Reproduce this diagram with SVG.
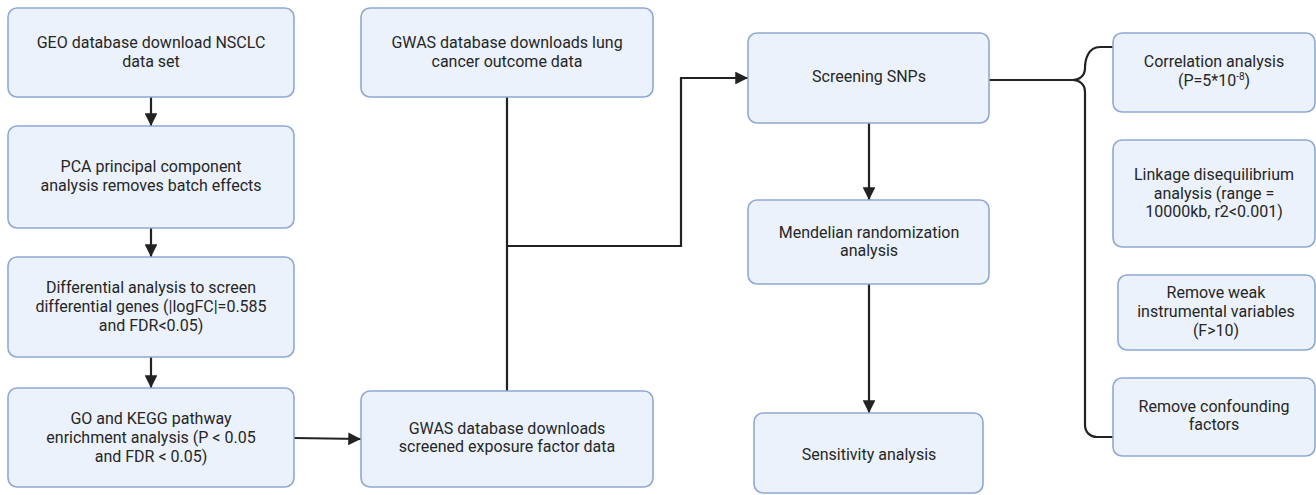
<svg xmlns="http://www.w3.org/2000/svg" width="1316" height="495" viewBox="0 0 1316 495">
  <style>
    .box { fill: #ebf2fc; stroke: #8fa8d3; stroke-width: 1.6; }
    .lbl { font-family: Roboto, "Liberation Sans", sans-serif; font-size: 16px; fill: #262626; text-anchor: middle; }
    .wire { fill: none; stroke: #222; stroke-width: 2.2; }
  </style>
  <defs>
    <marker id="arrow" viewBox="0 0 10 10" refX="10" refY="5" markerWidth="5.8" markerHeight="5.8" markerUnits="strokeWidth" orient="auto">
      <path d="M0,0 L10,5 L0,10 Z" fill="#222"/>
    </marker>
  </defs>
  <rect width="1316" height="495" fill="#ffffff"/>

  <g id="connectors">
    <line class="wire" x1="151" y1="97" x2="151" y2="126" marker-end="url(#arrow)"/>
    <line class="wire" x1="151" y1="228" x2="151" y2="257" marker-end="url(#arrow)"/>
    <line class="wire" x1="151" y1="357" x2="151" y2="388" marker-end="url(#arrow)"/>
    <line class="wire" x1="294" y1="438" x2="361" y2="439" marker-end="url(#arrow)"/>
    <line class="wire" x1="507" y1="97" x2="507" y2="391"/>
    <polyline class="wire" points="507,246 681,246 681,78 748,78" marker-end="url(#arrow)"/>
    <line class="wire" x1="869" y1="123" x2="869" y2="200" marker-end="url(#arrow)"/>
    <line class="wire" x1="869" y1="284" x2="869" y2="413" marker-end="url(#arrow)"/>
    <line class="wire" x1="989" y1="80" x2="1073" y2="80"/>
    <path class="wire" d="M1113,47 L1100,47 C1088,47 1085,60 1085,68 C1085,76 1079,80 1073,80 C1079,80 1085,84 1085,92 L1085,425 C1085,432 1090,437 1097,437 L1113,437"/>
  </g>

  <g id="geo-download">
    <rect class="box" x="8" y="8" width="286" height="89" rx="9"/>
    <text class="lbl" x="151" y="48">GEO database download NSCLC</text>
    <text class="lbl" x="151" y="67">data set</text>
  </g>
  <g id="pca">
    <rect class="box" x="8" y="126" width="286" height="102" rx="9"/>
    <text class="lbl" x="151" y="172">PCA principal component</text>
    <text class="lbl" x="151" y="191">analysis removes batch effects</text>
  </g>
  <g id="differential">
    <rect class="box" x="8" y="257" width="286" height="100" rx="9"/>
    <text class="lbl" x="151" y="293">Differential analysis to screen</text>
    <text class="lbl" x="151" y="312">differential genes (|logFC|=0.585</text>
    <text class="lbl" x="151" y="331">and FDR&lt;0.05)</text>
  </g>
  <g id="go-kegg">
    <rect class="box" x="8" y="388" width="286" height="99" rx="9"/>
    <text class="lbl" x="151" y="424">GO and KEGG pathway</text>
    <text class="lbl" x="151" y="443">enrichment analysis (P &lt; 0.05</text>
    <text class="lbl" x="151" y="462">and FDR &lt; 0.05)</text>
  </g>
  <g id="gwas-outcome">
    <rect class="box" x="361" y="8" width="292" height="89" rx="9"/>
    <text class="lbl" x="507" y="48">GWAS database downloads lung</text>
    <text class="lbl" x="507" y="67">cancer outcome data</text>
  </g>
  <g id="gwas-exposure">
    <rect class="box" x="361" y="391" width="292" height="96" rx="9"/>
    <text class="lbl" x="507" y="434">GWAS database downloads</text>
    <text class="lbl" x="507" y="452">screened exposure factor data</text>
  </g>
  <g id="screening">
    <rect class="box" x="748" y="33" width="241" height="90" rx="9"/>
    <text class="lbl" x="869" y="82">Screening SNPs</text>
  </g>
  <g id="mendelian">
    <rect class="box" x="748" y="200" width="241" height="84" rx="9"/>
    <text class="lbl" x="869" y="238">Mendelian randomization</text>
    <text class="lbl" x="869" y="256">analysis</text>
  </g>
  <g id="sensitivity">
    <rect class="box" x="754" y="413" width="229" height="80" rx="9"/>
    <text class="lbl" x="869" y="460">Sensitivity analysis</text>
  </g>
  <g id="correlation">
    <rect class="box" x="1113" y="33" width="202" height="79" rx="9"/>
    <text class="lbl" x="1214" y="67">Correlation analysis</text>
    <text class="lbl" x="1214" y="86">(P=5*10<tspan font-size="10" dy="-6">-8</tspan><tspan dy="6">)</tspan></text>
  </g>
  <g id="linkage">
    <rect class="box" x="1113" y="140" width="202" height="107" rx="9"/>
    <text class="lbl" x="1214" y="180">Linkage disequilibrium</text>
    <text class="lbl" x="1214" y="199">analysis (range =</text>
    <text class="lbl" x="1214" y="217">10000kb, r2&lt;0.001)</text>
  </g>
  <g id="weak-iv">
    <rect class="box" x="1118" y="275" width="197" height="75" rx="9"/>
    <text class="lbl" x="1216" y="298">Remove weak</text>
    <text class="lbl" x="1216" y="317">instrumental variables</text>
    <text class="lbl" x="1216" y="336">(F&gt;10)</text>
  </g>
  <g id="confounding">
    <rect class="box" x="1113" y="378" width="202" height="78" rx="9"/>
    <text class="lbl" x="1214" y="412">Remove confounding</text>
    <text class="lbl" x="1214" y="430">factors</text>
  </g>
</svg>
